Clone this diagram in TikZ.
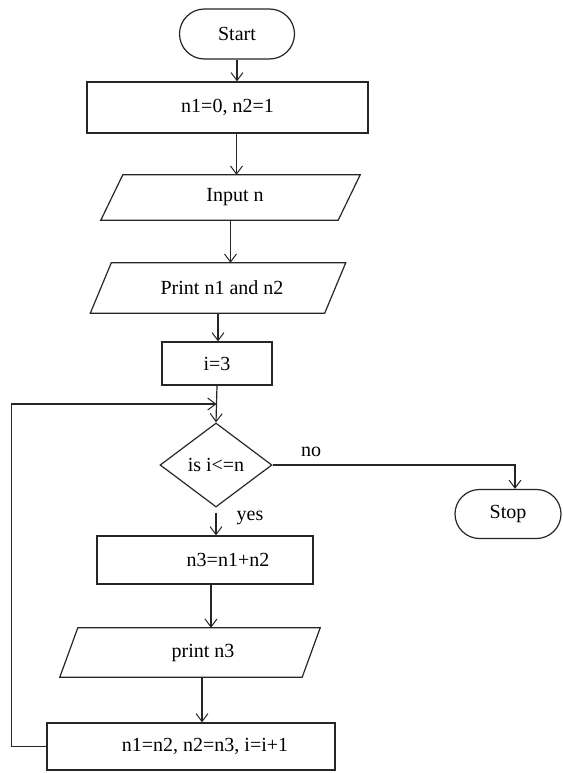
\documentclass[tikz,border=0pt]{standalone}
\usepackage{fontspec}
\setmainfont{Liberation Serif}
\usetikzlibrary{arrows.meta,shapes.geometric,shapes.misc,calc}
\newcommand{\paradraw}[2]{\draw[line] ($(#1.north west)+(#2,0)$) -- ($(#1.north east)+(#2,0)$) -- ($(#1.south east)-(#2,0)$) -- ($(#1.south west)-(#2,0)$) -- cycle;}
\tikzset{
  line/.style={line width=1.2bp, draw=black!85},
  arr/.style={line, -{Straight Barb[length=8bp,width=12bp,line width=1bp]}},
  procbox/.style={line, rectangle, inner sep=0pt},
  iobox/.style={rectangle, inner sep=0pt, draw=none},
  termbox/.style={line, rounded rectangle, inner sep=0pt},
  decbox/.style={line, diamond, inner sep=0pt},
  lab/.style={inner sep=1pt}
}
\begin{document}
\begin{tikzpicture}[x=1bp,y=-1bp,font=\fontsize{20bp}{23bp}\selectfont]
\useasboundingbox[fill=white] (0,0) rectangle (563,773);
\node[termbox, minimum width=115bp, minimum height=50bp] (start) at (237,34) {Start};
\node[procbox, minimum width=281bp, minimum height=51bp] (box1) at (227.5,107.5) {n1=0, n2=1};
\node[iobox, minimum width=237bp, minimum height=45bp] (in) at (230.5,197.5) {\hspace*{9bp}Input n};
\paradraw{in}{11}
\node[iobox, minimum width=234bp, minimum height=50bp] (pr) at (218,288) {\hspace*{8bp}Print n1 and n2};
\paradraw{pr}{10.5}
\node[procbox, minimum width=110bp, minimum height=43bp] (i3) at (217,363.5) {i=3};
\node[decbox, minimum width=112bp, minimum height=84bp] (dec) at (216,465) {is i<=n};
\node[termbox, minimum width=106bp, minimum height=49bp] (stop) at (508,514) {Stop};
\node[procbox, minimum width=216bp, minimum height=48bp] (n3) at (205,560) {\hspace*{46bp}n3=n1+n2};
\node[iobox, minimum width=242bp, minimum height=49bp] (pr3) at (190,652.5) {\hspace*{26bp}print n3};
\paradraw{pr3}{9}
\node[procbox, minimum width=288bp, minimum height=47bp] (last) at (191,746.5) {\hspace*{28bp}n1=n2, n2=n3, i=i+1};
\node[lab] (nolab) at (311,452) {no};
\node[lab] (yeslab) at (250,518) {yes};
\coordinate (a1) at ($(box1.south)+(9,0)$);
\coordinate (a2) at ($(n3.south)+(6,0)$);
\coordinate (a3) at ($(pr3.south)+(12,0)$);
\coordinate (s1) at ($(stop.north)+(7,0)$);
\coordinate (j) at ($(i3.south)!0.5!(dec.north)$);
\draw[arr] (start.south) -- (start.south |- box1.north);
\draw[arr] (a1) -- (a1 |- in.north);
\draw[arr] (in.south) -- (in.south |- pr.north);
\draw[arr] (pr.south) -- (pr.south |- i3.north);
\draw[arr] (i3.south) -- (dec.north);
\draw[arr] (dec.east) -| (s1);
\draw[arr] ([yshift=-5bp]dec.south) -- (dec.south |- n3.north);
\draw[arr] (a2) -- (a2 |- pr3.north);
\draw[arr] (a3) -- (a3 |- last.north);
\draw[arr] (last.west) -- ++(-35,0) |- (j);
\end{tikzpicture}
\end{document}
